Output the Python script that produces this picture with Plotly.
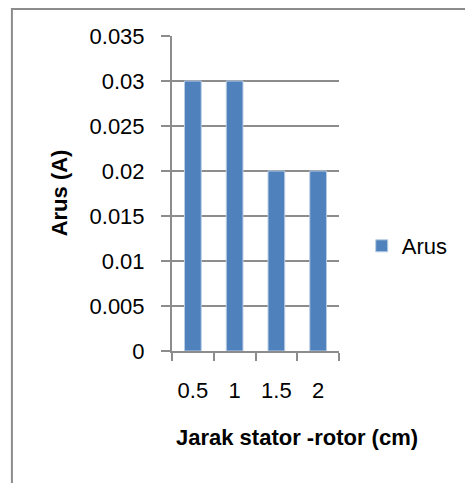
import plotly.graph_objects as go

# Data
jarak = ["0.5", "1", "1.5", "2"]          # stator-rotor distance (cm)
arus = [0.03, 0.03, 0.02, 0.02]           # current (A)
y_ticks = [0, 0.005, 0.01, 0.015, 0.02, 0.025, 0.03, 0.035]
y_tick_text = ["0", "0.005", "0.01", "0.015", "0.02", "0.025", "0.03", "0.035"]

W, H = 465, 483
L, R, T, B = 172, 124, 36, 132           # plot area margins in px
PW, PH = W - L - R, H - T - B

def px_x(x):
    return (x - L) / PW

def px_y(y):
    return (H - B - y) / PH

GRAY = "#8c8c8c"
FONT = "Liberation Sans, Arial, sans-serif"
NARROW = "Liberation Sans Narrow, Arial Narrow, Liberation Sans, sans-serif"

fig = go.Figure()
fig.add_trace(go.Bar(
    x=jarak, y=arus, name="Arus",
    marker=dict(color="#4F81BD", line=dict(color="#B9CDE5", width=1)),
))

fig.update_layout(
    width=W, height=H,
    margin=dict(l=L, r=R, t=T, b=B),
    paper_bgcolor="white", plot_bgcolor="white",
    bargap=0.6,
    font=dict(family=FONT, size=22, color="#000000"),
    showlegend=True,
    legend=dict(
        x=px_x(364), y=px_y(246), xanchor="left", yanchor="middle",
        font=dict(family=FONT, size=22, color="#000000"),
        bgcolor="rgba(0,0,0,0)",
    ),
    xaxis=dict(
        type="category",
        showline=True, linecolor=GRAY, linewidth=2,
        ticks="outside", tickson="boundaries", ticklen=8, tickwidth=2, tickcolor=GRAY,
        ticklabelstandoff=19,
        showgrid=False, zeroline=False,
    ),
    yaxis=dict(
        range=[0, 0.035],
        tickvals=y_ticks, ticktext=y_tick_text,
        showline=True, linecolor=GRAY, linewidth=2,
        ticks="outside", ticklen=9, tickwidth=2, tickcolor=GRAY,
        ticklabelstandoff=12,
        showgrid=True, gridcolor=GRAY, gridwidth=2,
        zeroline=False,
    ),
    shapes=[
        # outer chart frame (runs off the right and bottom edges)
        dict(type="rect", xref="paper", yref="paper",
             x0=px_x(10), x1=px_x(W + 20), y0=px_y(H + 20), y1=px_y(9),
             line=dict(color=GRAY, width=2), fillcolor="rgba(0,0,0,0)", layer="below"),
    ],
    annotations=[
        dict(text="<b>Jarak stator -rotor (cm)</b>", xref="paper", yref="paper",
             x=px_x(299), y=px_y(438), xanchor="center", yanchor="middle",
             showarrow=False, font=dict(family=NARROW, size=22, color="#000000")),
        dict(text="<b>Arus (A)</b>", xref="paper", yref="paper",
             x=px_x(58), y=px_y(193), xanchor="center", yanchor="middle",
             textangle=-90, showarrow=False,
             font=dict(family=NARROW, size=22, color="#000000")),
    ],
)

fig.write_html("out.html")
